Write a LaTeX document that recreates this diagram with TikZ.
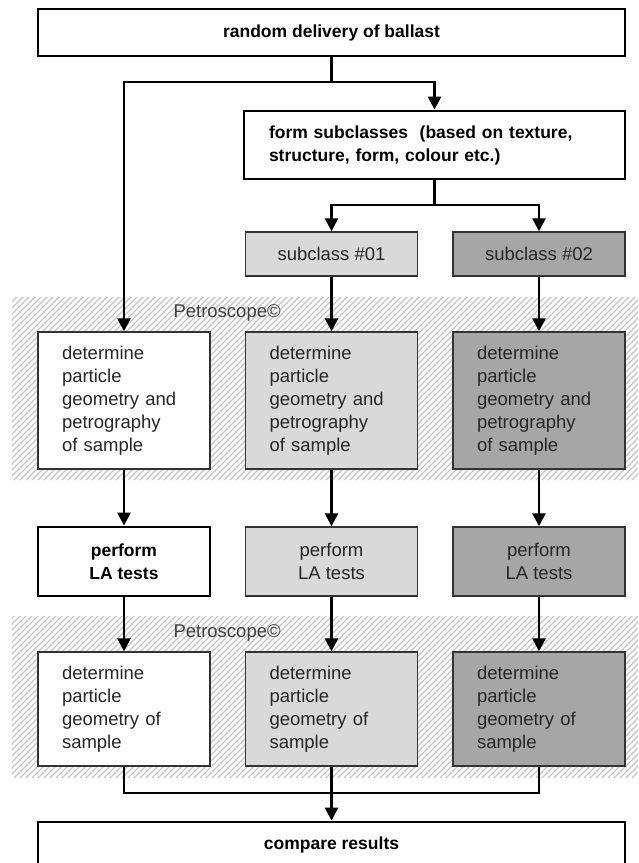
\documentclass[tikz,border=0pt]{standalone}
\usepackage{fontspec}
\setmainfont{Liberation Sans}
\usetikzlibrary{arrows.meta}

\definecolor{lightfill}{HTML}{D9D9D9}
\definecolor{darkfill}{HTML}{A6A6A6}
\definecolor{hatchgray}{HTML}{C4C4C4}

\tikzset{
  conn/.style={line width=2.6pt, draw=black},
  flow/.style={conn, -{Triangle[width=13pt,length=13pt]}},
  hatchline/.style={line width=1.3pt, draw=hatchgray},
  basebox/.style={rectangle, draw=black!80, line width=1.4pt, inner ysep=0pt,
    text=black!85, font=\fontsize{18.5}{23}\selectfont},
  keybox/.style={rectangle, draw=black, line width=2.8pt, inner ysep=0pt,
    text=black, font=\bfseries\fontsize{17.5}{23}\selectfont},
  colbox/.style={basebox, text width=124pt, inner xsep=24pt, align=left},
  labtext/.style={anchor=west, text=black!75, font=\fontsize{18.5}{23}\selectfont},
}

\begin{document}
\begin{tikzpicture}[x=1pt, y=-1pt]
\useasboundingbox (0,0) rectangle (638,863);

% hatched Petroscope bands
\foreach \top/\bot in {297/480, 616/778}{
  \begin{scope}
    \clip (12,\top) rectangle (638,\bot);
    \foreach \i in {-220,-214,...,660}
      \draw[hatchline] (\i,\bot) -- ++(200,-200);
  \end{scope}
}
\node[labtext] (pet1) at (170,313) {Petroscope©};
\node[labtext] (pet2) at (170,633) {Petroscope©};

% top of the flow
\node[keybox, minimum width=587pt, minimum height=47pt] (top) at (331.5,32.5)
  {random delivery of ballast};
\node[keybox, minimum width=381pt, minimum height=68pt, text width=331pt,
  inner xsep=25pt, align=left] (form) at (434.5,145)
  {form subclasses\ \ (based on texture,\\ structure, form, colour etc.)};
\node[basebox, fill=lightfill, minimum width=172pt, minimum height=44pt] (sub1)
  at (331.5,254) {subclass \#01};
\node[basebox, fill=darkfill, minimum width=172pt, minimum height=44pt] (sub2)
  at (539,254) {subclass \#02};

% first Petroscope step
\node[colbox, fill=white, minimum height=137pt] (ga) at (124,400.5)
  {determine\\ particle\\ geometry and\\ petrography\\ of sample};
\node[colbox, fill=lightfill, minimum height=137pt] (gb) at (331.5,400.5)
  {determine\\ particle\\ geometry and\\ petrography\\ of sample};
\node[colbox, fill=darkfill, minimum height=137pt] (gc) at (539,400.5)
  {determine\\ particle\\ geometry and\\ petrography\\ of sample};

% LA tests
\node[keybox, fill=white, minimum width=172pt, minimum height=69pt, align=center]
  (la) at (124,561.5) {perform\\ LA tests};
\node[basebox, fill=lightfill, minimum width=172pt, minimum height=69pt, align=center]
  (lb) at (331.5,561.5) {perform\\ LA tests};
\node[basebox, fill=darkfill, minimum width=172pt, minimum height=69pt, align=center]
  (lc) at (539,561.5) {perform\\ LA tests};

% second Petroscope step
\node[colbox, fill=white, minimum height=114pt] (ha) at (124,709)
  {determine\\ particle\\ geometry of\\ sample};
\node[colbox, fill=lightfill, minimum height=114pt] (hb) at (331.5,709)
  {determine\\ particle\\ geometry of\\ sample};
\node[colbox, fill=darkfill, minimum height=114pt] (hc) at (539,709)
  {determine\\ particle\\ geometry of\\ sample};

\node[keybox, fill=white, minimum width=587pt, minimum height=46pt] (cmp)
  at (331.5,845) {compare results};

% connectors
\coordinate (split1) at (331.5,82);
\coordinate (split2) at (434.5,205);
\coordinate (merge) at (331.5,793);

\draw[conn] (top.south) -- (split1);
\draw[flow] (split1) -| (ga.north);
\draw[flow] (split1) -| (form.north);

\draw[conn] (form.south) -- (split2);
\draw[flow] (split2) -| (sub1.north);
\draw[flow] (split2) -| (sub2.north);

\draw[flow] (sub1.south) -- (gb.north);
\draw[flow] (sub2.south) -- (gc.north);

\draw[flow] (ga.south) -- (la.north);
\draw[flow] (gb.south) -- (lb.north);
\draw[flow] (gc.south) -- (lc.north);

\draw[flow] (la.south) -- (ha.north);
\draw[flow] (lb.south) -- (hb.north);
\draw[flow] (lc.south) -- (hc.north);

\draw[conn] (ha.south) |- (merge);
\draw[conn] (hc.south) |- (merge);
\draw[flow] (hb.south) -- (cmp.north);
\end{tikzpicture}
\end{document}
